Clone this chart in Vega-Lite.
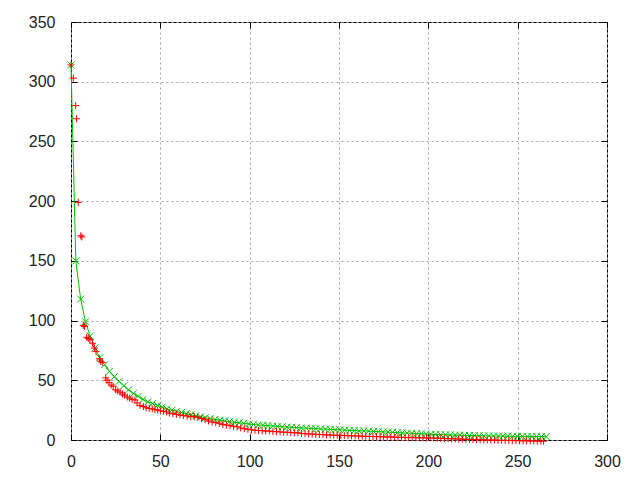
{
  "$schema": "https://vega.github.io/schema/vega-lite/v6.json",
  "autosize": "none",
  "width": 536,
  "height": 418,
  "padding": {"left": 71, "top": 22, "right": 33, "bottom": 40},
  "background": "white",
  "config": {
    "view": {"stroke": "black", "strokeWidth": 1},
    "axis": {
      "labelFont": "Liberation Sans",
      "labelFontSize": 16,
      "labelColor": "#222222",
      "domain": false,
      "tickColor": "black",
      "tickSize": -6,
      "gridColor": "#a0a0a0",
      "gridDash": [2, 3],
      "gridWidth": 1,
      "gridOpacity": 1,
      "title": null
    }
  },
  "datasets": {
    "green": [
      {"x": 0, "y": 314}, {"x": 2.7, "y": 150}, {"x": 5.4, "y": 118}, {"x": 8.1, "y": 99}, {"x": 10.7, "y": 87},
      {"x": 13.4, "y": 77}, {"x": 16.1, "y": 69}, {"x": 18.8, "y": 63}, {"x": 21.5, "y": 57.5}, {"x": 24.2, "y": 53},
      {"x": 26.9, "y": 49}, {"x": 29.6, "y": 45.5}, {"x": 32.2, "y": 42}, {"x": 34.9, "y": 39}, {"x": 37.6, "y": 36.5},
      {"x": 40.3, "y": 34}, {"x": 43.0, "y": 32}, {"x": 45.7, "y": 30.5}, {"x": 48.4, "y": 29}, {"x": 51.1, "y": 27.5},
      {"x": 53.7, "y": 26}, {"x": 56.4, "y": 25}, {"x": 59.1, "y": 24}, {"x": 61.8, "y": 23}, {"x": 64.5, "y": 22},
      {"x": 67.2, "y": 21}, {"x": 69.9, "y": 20.2}, {"x": 72.5, "y": 19.4}, {"x": 75.2, "y": 18.6}, {"x": 77.9, "y": 17.9},
      {"x": 80.6, "y": 17.2}, {"x": 83.3, "y": 16.6}, {"x": 86.0, "y": 16.0}, {"x": 88.7, "y": 15.4}, {"x": 91.4, "y": 14.9},
      {"x": 94.1, "y": 14.4}, {"x": 96.7, "y": 13.9}, {"x": 99.4, "y": 13.4}, {"x": 102.1, "y": 13.0}, {"x": 104.8, "y": 12.6},
      {"x": 107.5, "y": 12.3}, {"x": 110.2, "y": 12.0}, {"x": 112.9, "y": 11.7}, {"x": 115.5, "y": 11.4}, {"x": 118.2, "y": 11.1},
      {"x": 120.9, "y": 10.8}, {"x": 123.6, "y": 10.6}, {"x": 126.3, "y": 10.4}, {"x": 129.0, "y": 10.1}, {"x": 131.7, "y": 9.9},
      {"x": 134.4, "y": 9.7}, {"x": 137.0, "y": 9.5}, {"x": 139.7, "y": 9.3}, {"x": 142.4, "y": 9.1}, {"x": 145.1, "y": 8.9},
      {"x": 147.8, "y": 8.7}, {"x": 150.5, "y": 8.5}, {"x": 153.2, "y": 8.3}, {"x": 155.9, "y": 8.1}, {"x": 158.5, "y": 7.9},
      {"x": 161.2, "y": 7.7}, {"x": 163.9, "y": 7.6}, {"x": 166.6, "y": 7.4}, {"x": 169.3, "y": 7.2}, {"x": 172.0, "y": 7.0},
      {"x": 174.7, "y": 6.8}, {"x": 177.4, "y": 6.6}, {"x": 180.0, "y": 6.4}, {"x": 182.7, "y": 6.2}, {"x": 185.4, "y": 6.0},
      {"x": 188.1, "y": 5.8}, {"x": 190.8, "y": 5.6}, {"x": 193.5, "y": 5.4}, {"x": 196.2, "y": 5.2}, {"x": 198.8, "y": 5.0},
      {"x": 201.5, "y": 4.8}, {"x": 204.2, "y": 4.6}, {"x": 206.9, "y": 4.5}, {"x": 209.6, "y": 4.4}, {"x": 212.3, "y": 4.3},
      {"x": 215.0, "y": 4.1}, {"x": 217.7, "y": 4.0}, {"x": 220.3, "y": 3.9}, {"x": 223.0, "y": 3.8}, {"x": 225.7, "y": 3.7},
      {"x": 228.4, "y": 3.6}, {"x": 231.1, "y": 3.5}, {"x": 233.8, "y": 3.4}, {"x": 236.5, "y": 3.35}, {"x": 239.2, "y": 3.3},
      {"x": 241.8, "y": 3.25}, {"x": 244.5, "y": 3.2}, {"x": 247.2, "y": 3.1}, {"x": 249.9, "y": 3.05}, {"x": 252.6, "y": 3.0},
      {"x": 255.3, "y": 2.95}, {"x": 258.0, "y": 2.9}, {"x": 260.6, "y": 2.9}, {"x": 263.3, "y": 2.85}, {"x": 266.0, "y": 2.8}
    ],
    "red": [
      {"x": 0, "y": 314}, {"x": 1.3, "y": 303}, {"x": 2.6, "y": 280}, {"x": 3.1, "y": 269}, {"x": 4.1, "y": 199},
      {"x": 5.5, "y": 171}, {"x": 6.1, "y": 170}, {"x": 6.9, "y": 96}, {"x": 7.6, "y": 95}, {"x": 8.8, "y": 86},
      {"x": 9.7, "y": 85}, {"x": 10.6, "y": 84}, {"x": 12.1, "y": 81}, {"x": 13.1, "y": 77}, {"x": 14.0, "y": 74},
      {"x": 15.9, "y": 68}, {"x": 16.6, "y": 66}, {"x": 17.5, "y": 65}, {"x": 19.4, "y": 52}, {"x": 20.2, "y": 50},
      {"x": 21.3, "y": 48}, {"x": 22.5, "y": 46}, {"x": 23.6, "y": 45}, {"x": 25.0, "y": 42}, {"x": 26.2, "y": 41},
      {"x": 27.5, "y": 40}, {"x": 28.8, "y": 38.5}, {"x": 30.0, "y": 37.5}, {"x": 31.5, "y": 36}, {"x": 32.8, "y": 35},
      {"x": 34.2, "y": 34}, {"x": 35.8, "y": 33.5}, {"x": 37.0, "y": 31}, {"x": 38.6, "y": 29}, {"x": 40.5, "y": 28},
      {"x": 42.0, "y": 27}, {"x": 43.8, "y": 26.5}, {"x": 45.5, "y": 26}, {"x": 47.0, "y": 25.5}, {"x": 48.5, "y": 25},
      {"x": 50.0, "y": 24.5}, {"x": 51.8, "y": 24}, {"x": 53.5, "y": 23.5}, {"x": 55.0, "y": 22.5}, {"x": 57.0, "y": 22},
      {"x": 59.0, "y": 21.5}, {"x": 61.0, "y": 21}, {"x": 63.0, "y": 20.5}, {"x": 65.0, "y": 20}, {"x": 67.0, "y": 19.5},
      {"x": 69.0, "y": 19.5}, {"x": 71.0, "y": 19}, {"x": 73.0, "y": 18}, {"x": 75.0, "y": 17}, {"x": 77.0, "y": 16},
      {"x": 79.0, "y": 15}, {"x": 81.0, "y": 14.5}, {"x": 83.0, "y": 14}, {"x": 85.0, "y": 13}, {"x": 87.0, "y": 12.5},
      {"x": 89.0, "y": 12}, {"x": 91.0, "y": 11.5}, {"x": 93.0, "y": 11}, {"x": 95.0, "y": 10}, {"x": 97.0, "y": 9.5},
      {"x": 99.0, "y": 9}, {"x": 101.0, "y": 8.5}, {"x": 103.0, "y": 8.2}, {"x": 105.0, "y": 8}, {"x": 107.0, "y": 7.8},
      {"x": 109.0, "y": 7.5}, {"x": 111.0, "y": 7.5}, {"x": 113.0, "y": 7}, {"x": 115.0, "y": 7}, {"x": 117.0, "y": 6.8},
      {"x": 119.0, "y": 6.5}, {"x": 121.0, "y": 6.5}, {"x": 123.0, "y": 6.2}, {"x": 125.0, "y": 6}, {"x": 127.0, "y": 6},
      {"x": 129.0, "y": 5.5}, {"x": 131.0, "y": 5.3}, {"x": 133.0, "y": 5}, {"x": 135.0, "y": 5}, {"x": 137.0, "y": 4.8},
      {"x": 139.0, "y": 4.5}, {"x": 141.0, "y": 4.5}, {"x": 143.0, "y": 4.3}, {"x": 145.0, "y": 4.2}, {"x": 147.0, "y": 4},
      {"x": 149.0, "y": 4}, {"x": 151.0, "y": 3.8}, {"x": 153.0, "y": 3.7}, {"x": 155.0, "y": 3.6}, {"x": 157.0, "y": 3.5},
      {"x": 159.0, "y": 3.4}, {"x": 161.0, "y": 3.3}, {"x": 163.0, "y": 3.2}, {"x": 165.0, "y": 3.1}, {"x": 167.0, "y": 3},
      {"x": 169.0, "y": 2.9}, {"x": 171.0, "y": 2.8}, {"x": 173.0, "y": 2.8}, {"x": 175.0, "y": 2.6}, {"x": 177.0, "y": 2.5},
      {"x": 179.0, "y": 2.5}, {"x": 181.0, "y": 2.4}, {"x": 183.0, "y": 2.3}, {"x": 185.0, "y": 2.2}, {"x": 187.0, "y": 2.1},
      {"x": 189.0, "y": 2}, {"x": 191.0, "y": 2}, {"x": 193.0, "y": 1.9}, {"x": 195.0, "y": 1.8}, {"x": 197.0, "y": 1.8},
      {"x": 199.0, "y": 1.7}, {"x": 201.0, "y": 1.7}, {"x": 203.0, "y": 1.6}, {"x": 205.0, "y": 1.5}, {"x": 207.0, "y": 1.4},
      {"x": 209.0, "y": 1.2}, {"x": 211.0, "y": 1.1}, {"x": 213.0, "y": 1}, {"x": 215.0, "y": 0.9}, {"x": 217.0, "y": 0.8},
      {"x": 219.0, "y": 0.7}, {"x": 221.0, "y": 0.6}, {"x": 223.0, "y": 0.5}, {"x": 225.0, "y": 0.4}, {"x": 227.0, "y": 0.3},
      {"x": 229.0, "y": 0.2}, {"x": 231.0, "y": 0.1}, {"x": 233.0, "y": 0}, {"x": 235.0, "y": 0}, {"x": 237.0, "y": -0.1},
      {"x": 239.0, "y": -0.2}, {"x": 241.0, "y": -0.3}, {"x": 243.0, "y": -0.3}, {"x": 245.0, "y": -0.4}, {"x": 247.0, "y": -0.5},
      {"x": 249.0, "y": -0.5}, {"x": 251.0, "y": -0.6}, {"x": 253.0, "y": -0.7}, {"x": 255.0, "y": -0.7}, {"x": 257.0, "y": -0.8},
      {"x": 259.0, "y": -0.8}, {"x": 261.0, "y": -0.9}, {"x": 263.0, "y": -1}, {"x": 264.5, "y": -1}
    ]
  },
  "resolve": {"axis": {"x": "independent", "y": "independent"}},
  "layer": [
    {
      "data": {"name": "green"},
      "mark": {"type": "line", "color": "#00c000", "strokeWidth": 1, "clip": false},
      "encoding": {
        "x": {"field": "x", "type": "quantitative", "scale": {"domain": [0, 300], "nice": false, "zero": false},
              "axis": {"orient": "bottom", "values": [0, 50, 100, 150, 200, 250, 300], "grid": true, "labelPadding": 19, "labelFlush": false}},
        "y": {"field": "y", "type": "quantitative", "scale": {"domain": [0, 350], "nice": false, "zero": false},
              "axis": {"orient": "left", "values": [0, 50, 100, 150, 200, 250, 300, 350], "grid": true, "labelPadding": 22, "labelFlush": false}}
      }
    },
    {
      "data": {"name": "green"},
      "mark": {"type": "point", "shape": "M-1,-1L1,1M-1,1L1,-1", "size": 49, "filled": false, "color": "#00c000", "strokeWidth": 1, "opacity": 1, "clip": false},
      "encoding": {
        "x": {"field": "x", "type": "quantitative",
              "axis": {"orient": "top", "values": [0, 50, 100, 150, 200, 250, 300], "grid": false, "labels": false}},
        "y": {"field": "y", "type": "quantitative",
              "axis": {"orient": "right", "values": [0, 50, 100, 150, 200, 250, 300, 350], "grid": false, "labels": false}}
      }
    },
    {
      "data": {"name": "red"},
      "mark": {"type": "point", "shape": "M-1,0L1,0M0,-1L0,1", "size": 49, "filled": false, "color": "#ff0000", "strokeWidth": 1, "opacity": 1, "clip": false},
      "encoding": {
        "x": {"field": "x", "type": "quantitative", "axis": null},
        "y": {"field": "y", "type": "quantitative", "axis": null}
      }
    }
  ]
}
